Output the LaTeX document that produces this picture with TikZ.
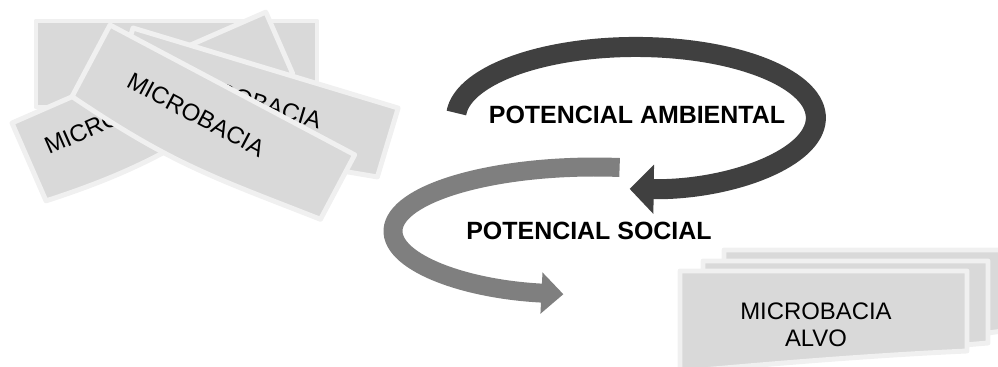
\documentclass[tikz,border=0pt]{standalone}
\usepackage{fontspec}
\setmainfont{Liberation Sans}
\usetikzlibrary{arrows.meta}
\definecolor{boxfill}{HTML}{D9D9D9}
\definecolor{boxline}{HTML}{F0F0F0}
\definecolor{ambcol}{HTML}{404040}
\definecolor{soccol}{HTML}{7F7F7F}
\tikzstyle{mbox}=[fill=boxfill,draw=boxline,line width=2.8pt,line join=round]
\tikzstyle{mtext}=[font=\fontsize{13.6}{15.4}\selectfont,inner sep=0pt]
\tikzstyle{ptext}=[font=\fontsize{14.2}{17}\selectfont\bfseries,inner sep=0pt]
\tikzstyle{ambarrow}=[draw=ambcol,line width=11.4pt,-{Triangle[width=27.3pt,length=13.7pt]}]
\tikzstyle{socarrow}=[draw=soccol,line width=10.8pt,-{Triangle[width=22.8pt,length=12.5pt]}]

\begin{document}
\begin{tikzpicture}[x=0.02cm,y=0.02cm]
	\clip (0,0) rectangle (998,-367);
	% pile of microbacias
	\draw[mbox] (36,-21) rectangle (317,-107);
	\begin{scope}[shift={(12,-123)},rotate=23.6]
		\draw[mbox] (0,0) -- (277,0) -- (277,-67) .. controls (163,-83) and (121,-97) .. (0,-85) -- cycle;
		\node[mtext,transform shape] (mb1) at (97,-36) {MICROBACIA};
	\end{scope}
	\begin{scope}[shift={(133,-28)},rotate=-16.8]
		\draw[mbox] (0,0) -- (277,0) -- (277,-72) .. controls (163,-86) and (121,-96) .. (0,-85) -- cycle;
		\node[mtext,transform shape] (mb2) at (131,-35) {MICROBACIA};
	\end{scope}
	\begin{scope}[shift={(110,-25)},rotate=-27.95]
		\draw[mbox] (0,0) -- (277,0) -- (277,-73) .. controls (163,-86) and (121,-94) .. (0,-81) -- cycle;
		\node[mtext,transform shape] (mb3) at (118,-39) {MICROBACIA};
	\end{scope}

	% the two potentials
	\coordinate (socstart) at (619.6,-167.5);
	\draw[socarrow] (socstart) arc[start angle=83,end angle=261,x radius=4.04cm,y radius=1.28cm];
	\coordinate (ambstart) at (456.4,-113);
	\draw[ambarrow] (ambstart) arc[start angle=176,end angle=-92,x radius=3.6cm,y radius=1.42cm];
	\node[ptext] (amb) at (637,-115) {POTENCIAL AMBIENTAL};
	\node[ptext] (soc) at (589,-231) {POTENCIAL SOCIAL};

	% target
	\draw[mbox] (724,-250) -- (1010,-250) -- (1010,-330) .. controls (900,-345) and (840,-356) .. (724,-350) -- cycle;
	\draw[mbox] (703,-261) -- (988,-261) -- (988,-343) .. controls (880,-352) and (800,-364) .. (703,-362) -- cycle;
	\draw[mbox] (680,-271) -- (967,-271) -- (967,-351) .. controls (880,-355) and (790,-362) .. (680,-372) -- cycle;
	\node[mtext,align=center] (alvo) at (816,-324.5) {MICROBACIA\\ALVO};
\end{tikzpicture}
\end{document}
